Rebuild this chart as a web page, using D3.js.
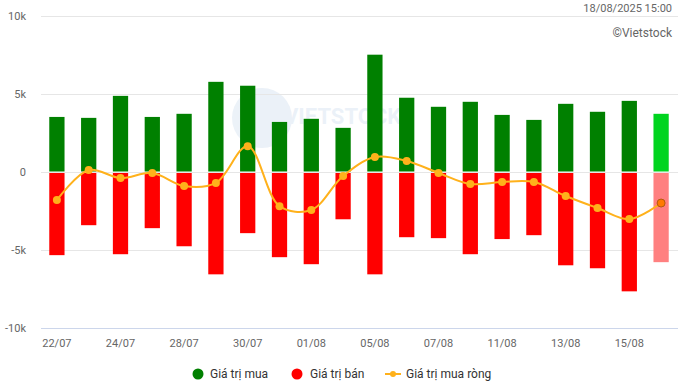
<!DOCTYPE html>
<html>
<head>
<meta charset="utf-8">
<script src="https://cdn.jsdelivr.net/npm/d3@7"></script>
<style>
  body { margin: 0; background: #fff; }
  svg { font-family: Roboto, "Noto Sans", sans-serif; }
</style>
</head>
<body>
<svg id="chart" width="678" height="384"></svg>
<script>
const dates = ['22/07','23/07','24/07','25/07','28/07','29/07','30/07','31/07','01/08','04/08',
               '05/08','06/08','07/08','08/08','11/08','12/08','13/08','14/08','15/08','18/08'];
const buyValues = [3530,3470,4880,3530,3730,5780,5530,3210,3410,2830,
                   7520,4760,4180,4500,3660,3340,4370,3860,4560,3730];
const sellValues = [-5330,-3410,-5270,-3600,-4760,-6560,-3920,-5460,-5910,-3030,
                    -6560,-4180,-4240,-5270,-4300,-4050,-5980,-6170,-7650,-5780];
const netValues = [-1800,130,-390,-60,-900,-700,1650,-2190,-2440,-260,
                   960,710,-60,-770,-640,-640,-1540,-2310,-3020,-1990];
const yTicks = [-10000,-5000,0,5000,10000];
const xTickLabels = ['22/07','24/07','28/07','30/07','01/08','05/08','07/08','11/08','13/08','15/08'];

const svg = d3.select('#chart');
const margin = { top: 16, right: 1, bottom: 56, left: 41 };
const width = 678 - margin.left - margin.right;
const height = 384 - margin.top - margin.bottom;

const x = d3.scaleBand().domain(dates).range([margin.left, margin.left + width])
  .paddingInner(0.52).paddingOuter(0.26);
const y = d3.scaleLinear().domain([-10000, 10000]).range([margin.top + height, margin.top]);

// watermark
const wm = svg.append('g').attr('opacity', 0.09);
wm.append('circle').attr('cx', 262).attr('cy', 118).attr('r', 30).attr('fill', '#2a6bb5');
wm.append('text').attr('x', 284).attr('y', 124).attr('font-size', 22).attr('font-weight', 'bold')
  .attr('fill', '#2a6bb5').text('VIETSTOCK');

// grid
svg.append('g').selectAll('line').data(yTicks.filter(d => d !== -10000)).enter().append('line')
  .attr('x1', margin.left).attr('x2', 678)
  .attr('y1', d => Math.round(y(d)) + 0.5).attr('y2', d => Math.round(y(d)) + 0.5)
  .attr('stroke', '#e6e6e6');

// axis line
svg.append('line').attr('x1', margin.left).attr('x2', 678)
  .attr('y1', Math.round(y(-10000)) + 0.5).attr('y2', Math.round(y(-10000)) + 0.5)
  .attr('stroke', '#ccd6eb');

// y labels
svg.append('g').selectAll('text').data(yTicks).enter().append('text')
  .attr('x', 26).attr('y', d => y(d) + 4)
  .attr('text-anchor', 'end').attr('font-size', 11).attr('fill', '#666')
  .text(d => d === 0 ? '0' : (d / 1000) + 'k');

// x labels
svg.append('g').selectAll('text').data(xTickLabels).enter().append('text')
  .attr('x', d => x(d) + x.bandwidth() / 2).attr('y', 347)
  .attr('text-anchor', 'middle').attr('font-size', 11).attr('fill', '#666')
  .text(d => d);

const last = dates.length - 1;

// buy bars
svg.append('g').selectAll('rect').data(buyValues).enter().append('rect')
  .attr('x', (d, i) => x(dates[i]))
  .attr('y', d => y(d))
  .attr('width', x.bandwidth())
  .attr('height', d => y(0) - y(d) - 0.5)
  .attr('fill', (d, i) => i === last ? '#00d41f' : '#008000');

// sell bars
svg.append('g').selectAll('rect').data(sellValues).enter().append('rect')
  .attr('x', (d, i) => x(dates[i]))
  .attr('y', y(0) + 1)
  .attr('width', x.bandwidth())
  .attr('height', d => y(d) - y(0) - 1)
  .attr('fill', (d, i) => i === last ? '#ff8080' : '#ff0000');

// net line
const line = d3.line()
  .x((d, i) => x(dates[i]) + x.bandwidth() / 2)
  .y(d => y(d))
  .curve(d3.curveCatmullRom.alpha(0.5));

svg.append('path').datum(netValues)
  .attr('d', line).attr('fill', 'none')
  .attr('stroke', '#ffb11b').attr('stroke-width', 2);

svg.append('g').selectAll('circle').data(netValues).enter().append('circle')
  .attr('cx', (d, i) => x(dates[i]) + x.bandwidth() / 2)
  .attr('cy', d => y(d))
  .attr('r', 4)
  .attr('fill', (d, i) => i === last ? '#ff7a00' : '#ffb11b')
  .attr('stroke', (d, i) => i === last ? '#b35a10' : 'none')
  .attr('stroke-width', 1);

// top texts
svg.append('text').attr('x', 672).attr('y', 12).attr('text-anchor', 'end')
  .attr('font-size', 11).attr('fill', '#666').text('18/08/2025 15:00');
svg.append('text').attr('x', 672).attr('y', 37).attr('text-anchor', 'end')
  .attr('font-size', 12).attr('fill', '#666').text('©Vietstock');

// legend
const legend = svg.append('g').attr('font-size', 12).attr('fill', '#333');
legend.append('circle').attr('cx', 198).attr('cy', 374).attr('r', 5.5).attr('fill', '#008000');
legend.append('text').attr('x', 210).attr('y', 378).text('Giá trị mua');
legend.append('circle').attr('cx', 297).attr('cy', 374).attr('r', 5.5).attr('fill', '#ff0000');
legend.append('text').attr('x', 310).attr('y', 378).text('Giá trị bán');
legend.append('line').attr('x1', 385).attr('x2', 401).attr('y1', 374).attr('y2', 374)
  .attr('stroke', '#ffb11b').attr('stroke-width', 2);
legend.append('circle').attr('cx', 393).attr('cy', 374).attr('r', 3).attr('fill', '#ffb11b');
legend.append('text').attr('x', 406).attr('y', 378).text('Giá trị mua ròng');
</script>
</body>
</html>
